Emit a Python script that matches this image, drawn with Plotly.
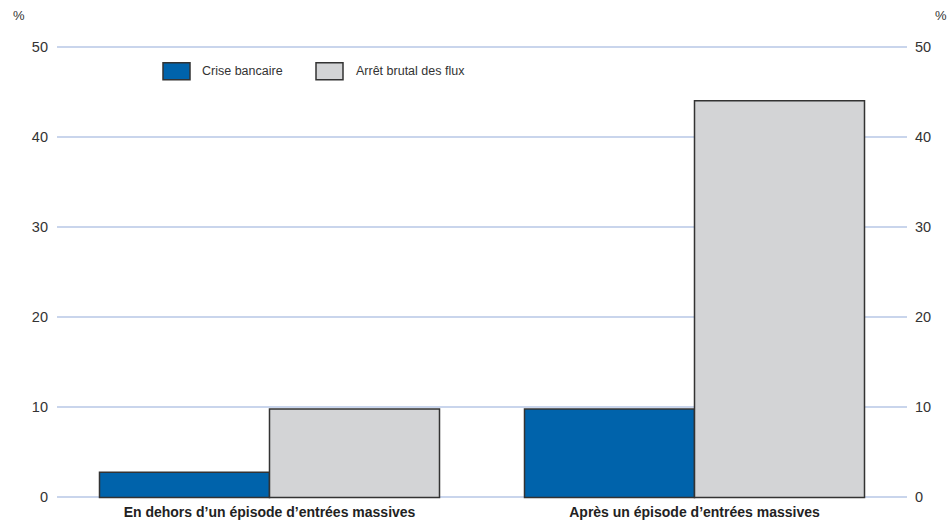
import plotly.graph_objects as go

categories = ["En dehors d\u2019un épisode d\u2019entrées massives", "Après un épisode d\u2019entrées massives"]
series_names = ["Crise bancaire", "Arrêt brutal des flux"]
crise_bancaire = [2.8, 9.8]
arret_brutal = [9.8, 44.0]
tick_vals = [0, 10, 20, 30, 40, 50]

colors = ["#0063AB", "#D3D4D6"]
FONT = "Liberation Sans, Arial, sans-serif"

W, H = 949, 523
pad = 0.4  # axis units beyond 0 and 50 so edge gridlines are drawn
unit = 450 / 50
L, R = 57, 42
T = 47 - pad * unit
B = 26 - pad * unit
pw = W - L - R
ph = H - T - B

def px(x):
    return (x - L) / pw

def py(y):
    return (H - B - y) / ph

fig = go.Figure()
for name, vals, col in zip(series_names, [crise_bancaire, arret_brutal], colors):
    fig.add_trace(go.Bar(x=categories, y=vals, name=name,
                         marker=dict(color=col, line=dict(color="#333333", width=1.5)),
                         showlegend=False))
# dummy trace on right axis
fig.add_trace(go.Scatter(x=categories, y=[None, None], yaxis="y2", showlegend=False, hoverinfo="skip"))

yr = [-pad, 50 + pad]
fig.update_layout(
    width=W, height=H,
    margin=dict(l=L, r=R, t=T, b=B),
    barmode="group", bargap=0.2, bargroupgap=0,
    plot_bgcolor="white", paper_bgcolor="white",
    font=dict(family=FONT, size=14, color="#333333"),
    xaxis=dict(showgrid=False, showline=False, zeroline=False, ticks="", automargin=False,
               tickfont=dict(family=FONT, size=14, color="#222222", weight="bold"),
               ticklabelstandoff=1),
    yaxis=dict(range=yr, tickvals=tick_vals, showgrid=True, gridcolor="#C9D5EC", gridwidth=1.5,
               zeroline=False, showline=False, ticks="", ticklabelstandoff=8, automargin=False,
               tickfont=dict(family=FONT, size=14.5, color="#333333")),
    yaxis2=dict(range=yr, tickvals=tick_vals, overlaying="y", side="right", showgrid=False,
                zeroline=False, showline=False, ticks="", ticklabelstandoff=7, automargin=False,
                tickfont=dict(family=FONT, size=14.5, color="#333333")),
)

# legend (manual, to match box sizes)
boxes = [(163, 190), (316, 343)]
texts_x = [200, 354]
for (x0, x1), tx, name, col in zip(boxes, texts_x, series_names, colors):
    fig.add_shape(type="rect", xref="paper", yref="paper", x0=px(x0), x1=px(x1), y0=py(80), y1=py(63),
                  fillcolor=col, line=dict(color="#333333", width=1.5))
    fig.add_annotation(xref="paper", yref="paper", x=px(tx), y=py(71.5), text=name, showarrow=False,
                       xanchor="left", yanchor="middle", font=dict(family=FONT, size=12.5, color="#333333"))

fig.add_annotation(xref="paper", yref="paper", x=px(11), y=py(16), text="%", showarrow=False,
                   xanchor="left", yanchor="middle", font=dict(family=FONT, size=13, color="#333333"))
fig.add_annotation(xref="paper", yref="paper", x=px(949), y=py(16), text="%", showarrow=False,
                   xanchor="right", yanchor="middle", font=dict(family=FONT, size=13, color="#333333"))

fig.write_html("out.html")
